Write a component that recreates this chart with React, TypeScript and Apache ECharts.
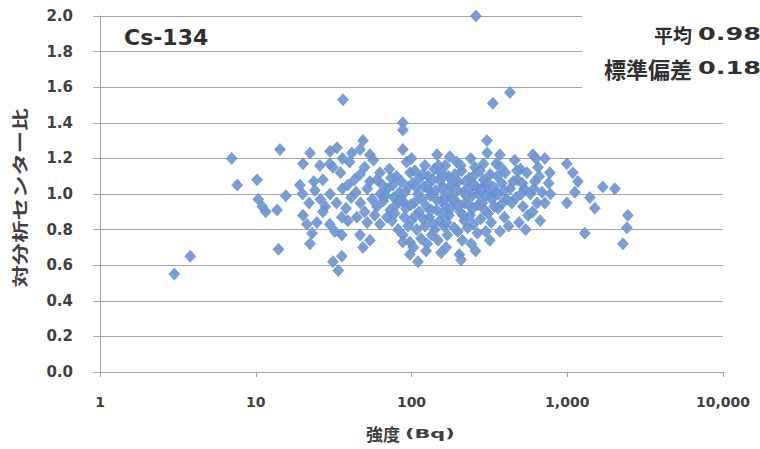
import React, { useEffect, useRef } from "react";
import * as echarts from "echarts";

// [intensity (Bq), ratio]
const pointsLow: number[][] = [
  [3.0, 0.55], [3.8, 0.65], [7.0, 1.2], [7.6, 1.05], [10.2, 1.08], [10.4, 0.97],
  [11.0, 0.93], [11.6, 0.9], [13.7, 0.91], [14.3, 1.25], [15.6, 0.99], [14.0, 0.69],
];

const points20to36: number[][] = [
  [20.1, 1.17], [22.3, 1.23], [19.2, 1.05], [23.6, 1.07], [20.1, 0.88], [21.3, 0.83],
  [23.0, 0.78], [22.3, 0.72], [24.7, 0.84], [25.8, 1.16], [29.9, 1.17], [30.0, 1.24],
  [33.2, 1.26], [31.3, 1.15], [29.9, 0.83], [32.2, 0.79], [35.7, 0.87], [35.7, 0.77],
  [31.3, 0.62], [35.7, 0.65], [33.9, 0.57], [36.3, 1.53], [20, 1.0], [22, 0.95],
  [24, 1.02], [26, 0.97], [28, 0.93], [30, 1.0], [33, 0.95], [36, 1.03], [27, 0.9],
  [27, 1.08], [35, 1.12], [36, 1.2],
];

const points36to100: number[][] = [
  [38, 0.92], [39, 1.05], [41.4, 1.23], [46.7, 1.25], [48.8, 1.3], [54.1, 1.22],
  [46.7, 1.11], [54, 1.07], [62.7, 1.12], [76, 1.05], [93, 1.18], [88, 1.4], [88, 1.36],
  [88, 1.25], [41, 0.98], [44, 1.01], [47, 0.95], [50, 0.9], [52, 1.03], [56, 0.97],
  [60, 0.93], [63, 1.0], [66, 0.96], [70, 1.03], [73, 0.91], [77, 0.98], [80, 0.94],
  [84, 1.01], [88, 0.96], [92, 0.92], [95, 1.04], [39, 0.85], [52, 0.84], [58, 0.88],
  [75, 0.85], [82, 0.8], [90, 0.87], [40, 1.18], [43, 1.08], [50, 1.15], [57, 1.19],
  [65, 1.05], [72, 1.14], [80, 1.1], [86, 1.07], [98, 1.12], [44.6, 0.87], [46.7, 0.77],
  [48.8, 0.7], [54.1, 0.74], [62.7, 0.83], [69.5, 0.87], [88, 0.77], [97.7, 0.73],
  [97.7, 0.66], [88, 0.73],
];

const points100to700: number[][] = [
  [100, 1.2], [105, 1.13], [102, 1.06], [110, 1.0], [104, 0.95], [112, 0.9], [100, 0.85],
  [108, 0.8], [115, 0.75], [103, 0.7], [110, 0.62], [113, 1.09], [106, 0.88],
  [122, 1.16], [128, 1.1], [120, 1.04], [132, 0.99], [125, 0.93], [130, 0.87], [122, 0.82],
  [135, 0.77], [126, 0.72], [131, 1.02], [124, 0.68],
  [146, 1.22], [140, 1.14], [150, 1.08], [143, 1.02], [155, 0.96], [145, 0.91], [152, 0.85],
  [141, 0.8], [155, 0.67], [148, 0.74], [153, 1.12], [167, 0.7],
  [176, 1.21], [165, 1.16], [172, 1.1], [160, 1.04], [178, 0.98], [167, 0.93], [174, 0.88],
  [162, 0.82], [170, 0.77], [180, 1.05], [163, 0.97],
  [195, 1.18], [210, 1.13], [200, 1.07], [215, 1.01], [192, 0.96], [205, 0.9], [218, 0.85],
  [198, 0.79], [212, 0.74], [203, 0.66], [220, 0.95], [190, 1.11], [208, 0.63],
  [240, 1.2], [255, 1.15], [235, 1.09], [262, 1.04], [245, 0.99], [268, 0.94], [238, 0.88],
  [250, 0.83], [265, 0.78], [242, 0.72], [258, 0.68], [259, 2.0], [250, 1.1], [233, 0.94],
  [305, 1.3], [306, 1.23], [290, 1.17], [320, 1.11], [296, 1.05], [315, 1.0], [285, 0.95],
  [310, 0.89], [325, 0.84], [300, 0.79], [318, 0.74], [333, 1.51], [290, 1.08], [328, 0.97],
  [428, 1.57], [369, 1.22], [350, 1.17], [400, 1.12], [380, 1.06], [345, 1.01], [410, 0.97],
  [360, 0.92], [395, 0.87], [420, 0.82], [370, 0.79], [430, 1.03], [355, 1.1], [385, 0.95],
  [460, 1.19], [500, 1.14], [480, 1.08], [530, 1.03], [470, 0.98], [520, 0.93], [560, 0.88],
  [490, 0.84], [540, 0.8], [505, 1.0], [550, 1.12],
  [601, 1.22], [650, 1.15], [620, 1.07], [690, 1.01], [640, 0.95], [600, 0.9], [670, 0.85],
  [630, 1.2],
];

const pointsCoreExtra: number[][] = [
  [60, 1.08], [68, 0.99], [74, 1.09], [78, 0.89], [83, 0.96], [91, 1.01], [95, 0.82], [99, 0.94],
  [107, 1.04], [116, 0.97], [118, 1.11], [119, 0.86], [127, 1.05], [134, 0.91], [137, 1.08], [138, 0.83],
  [144, 0.97], [149, 1.16], [157, 1.03], [158, 0.89], [161, 1.1], [168, 0.84], [173, 1.01], [179, 0.92],
  [184, 1.07], [186, 0.97], [188, 0.81], [197, 1.02], [201, 0.93], [207, 1.16], [214, 0.88], [222, 1.07],
  [226, 0.99], [229, 0.81], [236, 1.03], [248, 0.92], [252, 1.05], [270, 1.0], [275, 1.13], [278, 0.86],
  [283, 1.02], [295, 0.91], [300, 0.99], [312, 1.06], [336, 1.04], [340, 0.93], [362, 1.0], [375, 1.15],
  [392, 1.02], [440, 0.95], [450, 1.07], [475, 1.13], [515, 1.06], [580, 1.0], [610, 1.03], [660, 1.1],
];

const pointsHigh: number[][] = [
  [718, 1.2], [773, 1.12], [760, 1.06], [780, 1.0], [718, 0.95], [994, 1.17], [1086, 1.12],
  [1170, 1.07], [1692, 1.04], [2022, 1.03], [994, 0.95], [1119, 1.01], [1396, 0.98],
  [1503, 0.92], [1297, 0.78], [2449, 0.88], [2415, 0.81], [2277, 0.72],
];

const xTickLabels: Record<number, string> = { 1: "1", 10: "10", 100: "100", 1000: "1,000", 10000: "10,000" };
const title = "Cs-134";
const xName = ["強度", "(Bq)"];
const yName = "対分析センター比";
const statLabels = ["平均", "標準偏差"];
const statValues = ["0.98", "0.18"];

const App: React.FC = () => {
  const ref = useRef<HTMLDivElement>(null);
  useEffect(() => {
    if (!ref.current) return;
    const chart = echarts.init(ref.current, null, { renderer: "svg" });
    const data = [
      ...pointsLow, ...points20to36, ...points36to100, ...points100to700, ...pointsCoreExtra, ...pointsHigh,
    ];
    const gray = "#a6a6a6";
    const txt = "#404040";
    const numFont = "DejaVu Sans";
    const cjk = "'Noto Sans CJK JP', sans-serif";
    chart.setOption({
      animation: false,
      backgroundColor: "#ffffff",
      grid: { left: 100, right: 37, top: 16, bottom: 77, containLabel: false },
      xAxis: {
        type: "log",
        logBase: 10,
        min: 1,
        max: 10000,
        axisLine: { show: true, lineStyle: { color: gray, width: 1 } },
        axisTick: { show: true, length: 5, lineStyle: { color: gray } },
        splitLine: { show: false },
        axisLabel: {
          margin: 23,
          fontSize: 14,
          fontWeight: "bold",
          color: txt,
          fontFamily: numFont,
          formatter: (v: number) => xTickLabels[Math.round(v)] ?? "",
        },
      },
      yAxis: {
        type: "value",
        min: 0,
        max: 2,
        interval: 0.2,
        axisLine: { show: true, lineStyle: { color: gray, width: 1 } },
        axisTick: { show: true, length: 7, lineStyle: { color: gray } },
        splitLine: { show: true, lineStyle: { color: gray, width: 1 } },
        axisLabel: {
          margin: 27,
          fontSize: 15,
          fontWeight: "bold",
          color: txt,
          fontFamily: numFont,
          formatter: (v: number) => v.toFixed(1),
        },
      },
      series: [
        {
          type: "scatter",
          data,
          symbol: "diamond",
          symbolSize: [11, 12],
          itemStyle: { color: "#7099d4", borderColor: "#5a84c4", borderWidth: 0.6, opacity: 0.95 },
        },
      ],
      graphic: [
        { type: "rect", z: 10, shape: { x: 582, y: 5, width: 180, height: 92 }, style: { fill: "#ffffff" } },
        {
          type: "text", z: 11, x: 124, y: 37,
          style: { text: title, fill: "#303030", font: `bold 22px ${numFont}`, textVerticalAlign: "middle", textAlign: "left" },
        },
        {
          type: "text", z: 11, x: 692, y: 34,
          style: { text: statLabels[0], fill: "#303030", font: `bold 19px ${cjk}`, textAlign: "right", textVerticalAlign: "middle" },
        },
        {
          type: "text", z: 11, x: 698, y: 34, scaleX: 1.5,
          style: { text: statValues[0], fill: "#303030", font: `bold 17px ${numFont}`, textAlign: "left", textVerticalAlign: "middle" },
        },
        {
          type: "text", z: 11, x: 692, y: 68,
          style: { text: statLabels[1], fill: "#303030", font: `bold 22px ${cjk}`, textAlign: "right", textVerticalAlign: "middle" },
        },
        {
          type: "text", z: 11, x: 698, y: 68, scaleX: 1.5,
          style: { text: statValues[1], fill: "#303030", font: `bold 17px ${numFont}`, textAlign: "left", textVerticalAlign: "middle" },
        },
        {
          type: "text", z: 11, x: 400, y: 433,
          style: { text: xName[0], fill: txt, font: `bold 17px ${cjk}`, textAlign: "right", textVerticalAlign: "middle" },
        },
        {
          type: "text", z: 11, x: 405, y: 434, scaleX: 1.6,
          style: { text: xName[1], fill: txt, font: `bold 13px ${numFont}`, textAlign: "left", textVerticalAlign: "middle" },
        },
        {
          type: "text", z: 11, x: 19, y: 198, rotation: Math.PI / 2, scaleX: 1.4,
          style: { text: yName, fill: txt, font: `bold 16px ${cjk}`, textAlign: "center", textVerticalAlign: "middle" },
        },
      ],
    });
    return () => chart.dispose();
  }, []);
  return <div ref={ref} style={{ width: 760, height: 449, position: "absolute", left: 0, top: 0 }} />;
};

export default App;
